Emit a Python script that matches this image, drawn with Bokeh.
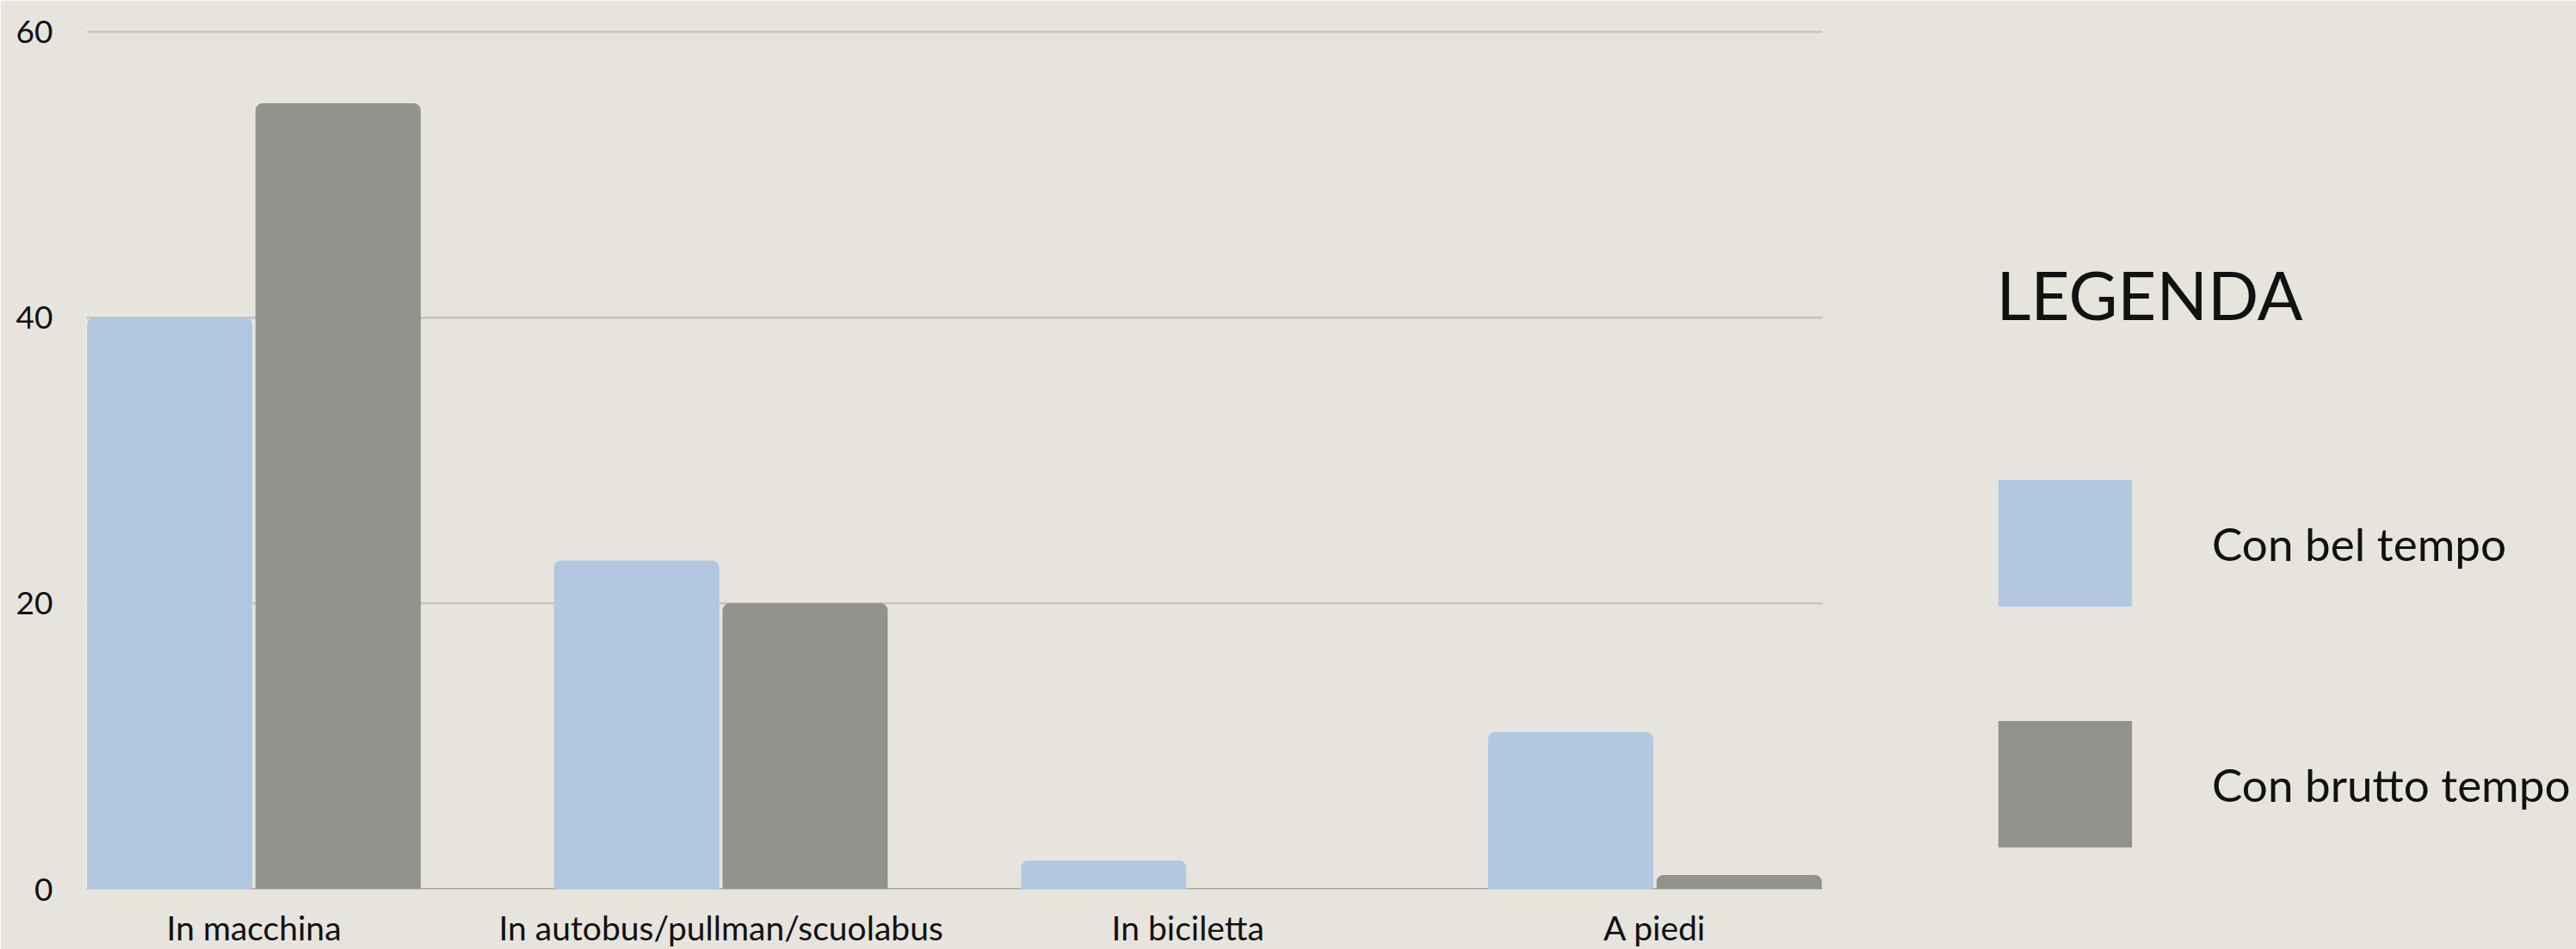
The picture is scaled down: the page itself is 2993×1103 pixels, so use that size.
from bokeh.plotting import figure
from bokeh.models import Range1d, FixedTicker, Legend, LegendItem, ColumnDataSource, Label
from bokeh.transform import dodge
from bokeh.embed import file_html
from bokeh.resources import INLINE

# ---- data ----
categories = ["In macchina", "In autobus/pullman/scuolabus", "In biciletta", "A piedi"]
bel_tempo = [40, 23, 2, 11]
brutto_tempo = [55, 20, 0, 1]
y_ticks = [0, 20, 40, 60]
series_names = ["Con bel tempo", "Con brutto tempo"]
legend_title = "LEGENDA"

# ---- style ----
BG = "#E7E4DE"
BLUE = "#B1C8E0"
GRAY = "#92938D"
GRID = "#C7C4BE"
AXIS = "#A6A39D"
FONT = "Lato"
TXT = "#111111"

idx = list(range(len(categories)))
src = ColumnDataSource(dict(x=idx, bel=bel_tempo, brutto=brutto_tempo, cat=categories))

# chart area spans the categories; the frame continues to the right to host the legend
pad = 0.3585
chart_start = -pad
chart_end = len(categories) - 1 + pad
unit_px = 542.6
frame_left = 100
frame_w = 2993 - frame_left
x_end = chart_start + frame_w / unit_px

p = figure(
    width=2993, height=1103,
    x_range=Range1d(chart_start, x_end),
    y_range=Range1d(0, 60.15),
    output_backend="svg", toolbar_location=None,
    min_border_left=frame_left, min_border_right=0,
    min_border_top=34, min_border_bottom=70,
    background_fill_color=BG, border_fill_color=BG,
    outline_line_color=None,
)
p.xgrid.grid_line_color = None
p.ygrid.grid_line_color = None

# horizontal grid lines and baseline limited to the chart area
grid_y = [t for t in y_ticks if t > 0]
p.segment(x0=[chart_start] * len(grid_y), x1=[chart_end] * len(grid_y), y0=grid_y, y1=grid_y,
          line_color=GRID, line_width=2.5)
p.segment(x0=[chart_start], x1=[chart_end], y0=[0], y1=[0], line_color=AXIS, line_width=3)

bar_w = 0.3538
off = 0.1803
r1 = p.vbar(x=dodge("x", -off, range=p.x_range), top="bel", width=bar_w, source=src,
            fill_color=BLUE, line_color=None, border_radius=(8, 8, 0, 0))
r2 = p.vbar(x=dodge("x", off, range=p.x_range), top="brutto", width=bar_w, source=src,
            fill_color=GRAY, line_color=None, border_radius=(8, 8, 0, 0))

# axes
p.xaxis.ticker = FixedTicker(ticks=idx)
p.xaxis.major_label_overrides = {i: c for i, c in zip(idx, categories)}
p.xaxis.major_tick_line_color = None
p.xaxis.minor_tick_line_color = None
p.xaxis.axis_line_color = None
p.xaxis.major_label_text_font = FONT
p.xaxis.major_label_text_font_size = "39px"
p.xaxis.major_label_text_color = TXT
p.xaxis.major_label_standoff = 15

p.yaxis.ticker = FixedTicker(ticks=y_ticks)
p.yaxis.axis_line_color = None
p.yaxis.major_tick_line_color = None
p.yaxis.minor_tick_line_color = None
p.yaxis.major_label_text_font = FONT
p.yaxis.major_label_text_font_size = "37px"
p.yaxis.major_label_text_color = TXT
p.yaxis.major_label_standoff = 33

legend = Legend(
    items=[LegendItem(label=series_names[0], renderers=[r1]),
           LegendItem(label=series_names[1], renderers=[r2])],
    location=(2202, 30),
    label_text_font=FONT, label_text_font_size="53px", label_text_color=TXT,
    glyph_width=194, glyph_height=184, label_standoff=74, spacing=96,
    padding=0, margin=0, border_line_color=None, background_fill_alpha=0,
)
p.add_layout(legend)
p.add_layout(Label(x=2219, y=692, x_units="screen", y_units="screen", text=legend_title,
                   text_font=FONT, text_font_size="78px", text_color=TXT,
                   text_baseline="alphabetic"))

open("out.html", "w").write(file_html(p, INLINE))
